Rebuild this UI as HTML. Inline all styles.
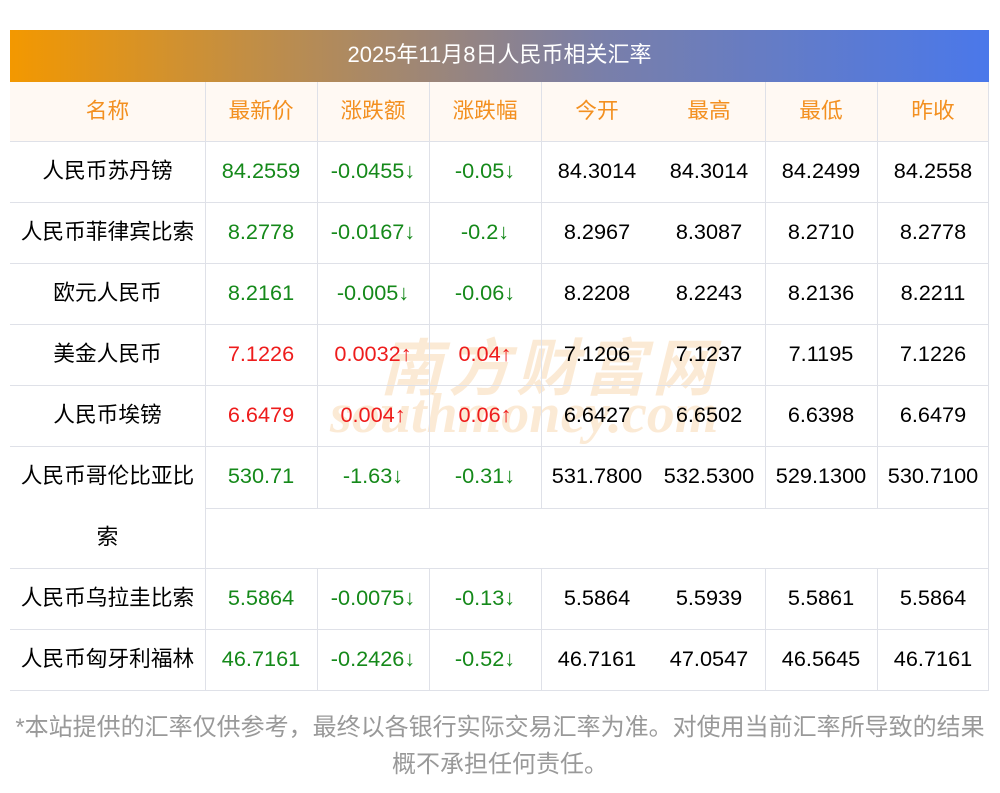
<!DOCTYPE html>
<html><head><meta charset="utf-8"><style>
body{margin:0;width:1000px;height:793px;background:#fff;position:relative;overflow:hidden;font-family:"Liberation Sans","Noto Sans CJK SC",sans-serif}
.t{position:absolute;left:10px;top:30px;width:979px;height:52px;background:linear-gradient(90deg,#f39800,#7a7fa8 60%,#4a78ea);color:#fff;font-size:22px;line-height:50px;text-align:center}
.c{position:absolute;text-align:center;font-size:21.7px;line-height:58px;white-space:nowrap}
.h{position:absolute;left:10px;top:82px;width:979px;height:60px;background:#fff9f3}
.hl{position:absolute;height:1px;background:#dfe1e8}
.vl{position:absolute;width:1px;background:#dfe1e8}
.g{color:#15891a}.r{color:#ee1c1c}.o{color:#f39020}
.f{position:absolute;left:0;width:1000px;text-align:center;color:#999;font-size:24px;line-height:30px}
.wm{position:absolute;color:#f6c48a;opacity:0.35;white-space:nowrap;font-weight:bold}
</style></head><body>
<div class="t">2025年11月8日人民币相关汇率</div>
<div class="h"></div>
<div class="wm" style="left:380px;top:318px;font-size:62px;letter-spacing:6px;font-style:italic">南方财富网</div>
<div class="wm" style="left:330px;top:382px;font-size:56px;font-style:italic;font-family:'Liberation Serif',serif">southmoney.com</div>
<div id="tb"></div>
<div class="f" style="top:713px">*本站提供的汇率仅供参考，最终以各银行实际交易汇率为准。对使用当前汇率所导致的结果</div>
<div class="f" style="top:750px">概不承担任何责任。</div>
<script>
var X=[10,205,317,429,541,653,765,877,989];
var rows=[
["人民币苏丹镑","84.2559","-0.0455↓","-0.05↓","84.3014","84.3014","84.2499","84.2558","g"],
["人民币菲律宾比索","8.2778","-0.0167↓","-0.2↓","8.2967","8.3087","8.2710","8.2778","g"],
["欧元人民币","8.2161","-0.005↓","-0.06↓","8.2208","8.2243","8.2136","8.2211","g"],
["美金人民币","7.1226","0.0032↑","0.04↑","7.1206","7.1237","7.1195","7.1226","r"],
["人民币埃镑","6.6479","0.004↑","0.06↑","6.6427","6.6502","6.6398","6.6479","r"],
["人民币哥伦比亚比","530.71","-1.63↓","-0.31↓","531.7800","532.5300","529.1300","530.7100","g"],
["人民币乌拉圭比索","5.5864","-0.0075↓","-0.13↓","5.5864","5.5939","5.5861","5.5864","g"],
["人民币匈牙利福林","46.7161","-0.2426↓","-0.52↓","46.7161","47.0547","46.5645","46.7161","g"]];
var hd=["名称","最新价","涨跌额","涨跌幅","今开","最高","最低","昨收"];
var s="";
function cell(i,y,txt,cls){s+='<div class="c '+cls+'" style="left:'+X[i]+'px;width:'+(X[i+1]-X[i])+'px;top:'+y+'px">'+txt+'</div>';}
for(var i=0;i<8;i++)cell(i,82,hd[i],"o");
var ys=[142,203,264,325,386,447,569,630];
for(var r=0;r<8;r++){var y=ys[r],R=rows[r];
 for(var i=0;i<8;i++)cell(i,y,R[i],i==0?"":(i<4?R[8]:""));
 s+='<div class="hl" style="left:10px;width:979px;top:'+(y-1)+'px"></div>';
 [205,317,429,541,765,877,988].forEach(function(x){s+='<div class="vl" style="left:'+x+'px;top:'+y+'px;height:61px"></div>';});
}
cell(0,508,"索","");
s+='<div class="hl" style="left:205px;width:784px;top:508px"></div>';
s+='<div class="vl" style="left:205px;top:508px;height:61px"></div>';
s+='<div class="vl" style="left:988px;top:508px;height:61px"></div>';
s+='<div class="hl" style="left:10px;width:979px;top:690px"></div>';
[205,317,429,541,765,877,988].forEach(function(x){s+='<div class="vl" style="left:'+x+'px;top:82px;height:60px"></div>';});
document.getElementById("tb").innerHTML=s;
</script>
</body></html>
